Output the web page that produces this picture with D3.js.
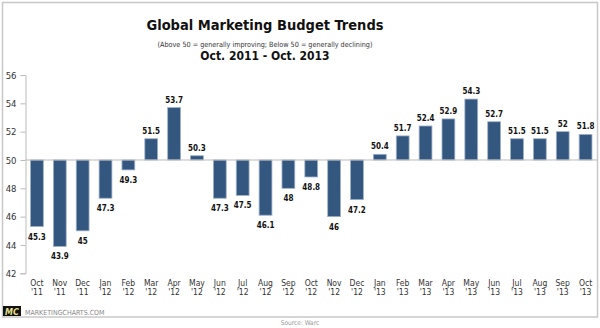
<!DOCTYPE html>
<html><head><meta charset="utf-8">
<script src="https://cdn.jsdelivr.net/npm/d3@7"></script>
<style>body{margin:0;background:#fff;}svg{display:block;}</style>
</head><body>
<svg id="c" width="600" height="328"></svg>
<script>
const months = ["Oct","Nov","Dec","Jan","Feb","Mar","Apr","May","Jun","Jul","Aug","Sep","Oct","Nov","Dec","Jan","Feb","Mar","Apr","May","Jun","Jul","Aug","Sep","Oct"];
const years = ["'11","'11","'11","'12","'12","'12","'12","'12","'12","'12","'12","'12","'12","'12","'12","'13","'13","'13","'13","'13","'13","'13","'13","'13","'13"];
const values = [45.3,43.9,45,47.3,49.3,51.5,53.7,50.3,47.3,47.5,46.1,48,48.8,46,47.2,50.4,51.7,52.4,52.9,54.3,52.7,51.5,51.5,52,51.8];
const yTicks = [42,44,46,48,50,52,54,56];
const baseline = 50;

const svg = d3.select("#c");
const font = "'DejaVu Sans Condensed', 'DejaVu Sans', sans-serif";
const font2 = "'DejaVu Sans', sans-serif";

// frame
svg.append("rect").attr("x",2.5).attr("y",2.5).attr("width",595).attr("height",314.5)
  .attr("fill","#fff").attr("stroke","#c8c8c8").attr("stroke-width",1.5);

// titles
svg.append("text").attr("x",265).attr("y",30).attr("text-anchor","middle")
  .attr("font-family",font).attr("font-weight","bold").attr("font-size",14.5).attr("fill","#111")
  .text("Global Marketing Budget Trends");
svg.append("text").attr("x",265).attr("y",46.5).attr("text-anchor","middle")
  .attr("font-family",font).attr("font-size",7.2).attr("fill","#333")
  .text("(Above 50 = generally improving; Below 50 = generally declining)");
svg.append("text").attr("x",265).attr("y",60).attr("text-anchor","middle")
  .attr("font-family",font).attr("font-weight","bold").attr("font-size",12).attr("fill","#111")
  .text("Oct. 2011 - Oct. 2013");

const x = d3.scaleBand().domain(d3.range(values.length)).range([25.5,597]).paddingInner(0.44).paddingOuter(0.22);
const y = d3.scaleLinear().domain([42,56]).range([273.3,75]);

// y axis
const yAxis = svg.append("g").attr("transform","translate(25.5,0)")
  .call(d3.axisLeft(y).tickValues(yTicks).tickSize(5).tickPadding(4));
yAxis.select(".domain").attr("stroke","#bbb");
yAxis.selectAll(".tick line").attr("stroke","#bbb");
yAxis.selectAll(".tick text").attr("font-family",font).attr("font-size",9.5).attr("fill","#333");

// bars
svg.append("g").selectAll("rect").data(values).join("rect")
  .attr("x",(d,i)=>x(i))
  .attr("width",x.bandwidth())
  .attr("y",d=>y(Math.max(d,baseline)))
  .attr("height",d=>Math.abs(y(d)-y(baseline)))
  .attr("fill","#34577f").attr("stroke","#9db0c8").attr("stroke-width",0.8);

// baseline
svg.append("line").attr("x1",25.5).attr("x2",597).attr("y1",y(baseline)).attr("y2",y(baseline))
  .attr("stroke","#bbb").attr("stroke-width",1);

// value labels
svg.append("g").selectAll("text").data(values).join("text")
  .attr("x",(d,i)=>x(i)+x.bandwidth()/2)
  .attr("y",d=> d>=baseline ? y(d)-5 : y(d)+13)
  .attr("text-anchor","middle").attr("font-family",font).attr("font-weight","bold")
  .attr("font-size",8).attr("fill","#111")
  .text(d=>d);

// x labels
const xl = svg.append("g").selectAll("text").data(months).join("text")
  .attr("text-anchor","middle").attr("font-family",font).attr("font-size",8.5).attr("fill","#333");
xl.append("tspan").attr("x",(d,i)=>x(i)+x.bandwidth()/2).attr("y",286).text(d=>d);
xl.append("tspan").attr("x",(d,i)=>x(i)+x.bandwidth()/2).attr("y",295).text((d,i)=>years[i]);

// logo
svg.append("rect").attr("x",3).attr("y",306).attr("width",18).attr("height",10).attr("fill","#111");
svg.append("text").attr("x",12).attr("y",314.5).attr("text-anchor","middle").attr("font-family",font2)
  .attr("font-weight","bold").attr("font-style","italic").attr("font-size",8).attr("fill","#e8e08a").text("MC");
svg.append("text").attr("x",25).attr("y",314.5).attr("font-family",font).attr("font-size",7)
  .attr("fill","#888").text("MARKETINGCHARTS.COM");
svg.append("text").attr("x",300).attr("y",325).attr("text-anchor","middle").attr("font-family",font)
  .attr("font-size",6.5).attr("fill","#999").text("Source: Warc");
</script>
</body></html>
